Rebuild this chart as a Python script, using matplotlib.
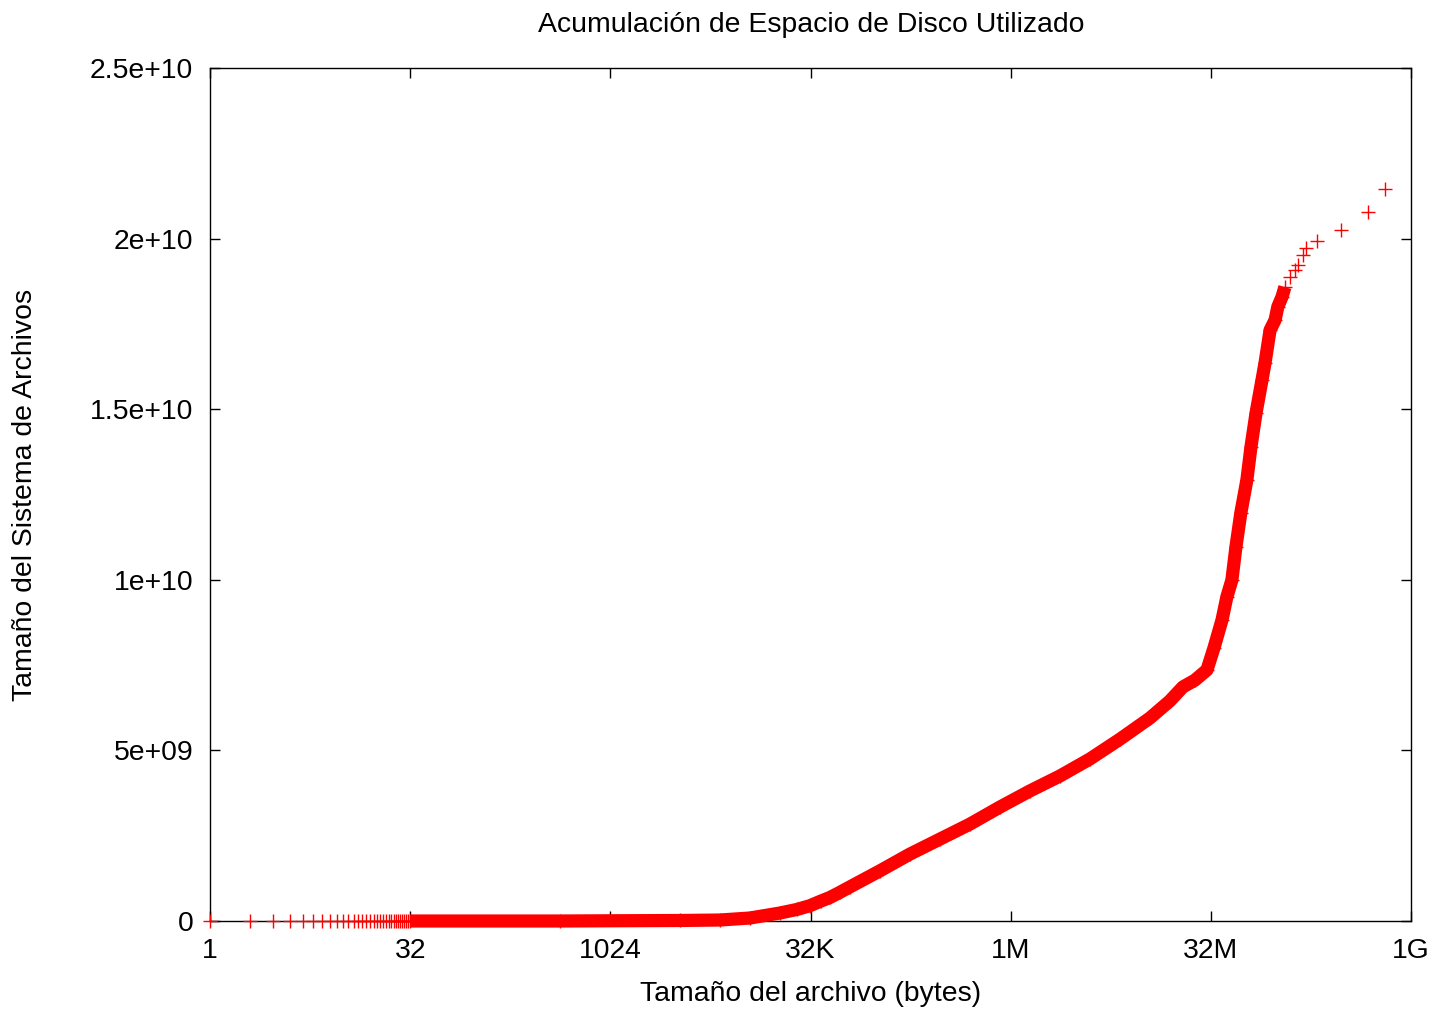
import matplotlib
matplotlib.use('Agg')
import matplotlib.pyplot as plt

plt.rcParams['font.family'] = ['Liberation Sans', 'DejaVu Sans']

# Archivos pequeños (1..31 bytes): puntos sueltos, acumulado ~0
tamanos_pequenos = [1, 2, 3, 4, 5, 6, 7, 8, 9, 10, 11, 12, 13, 14, 15, 16,
                    17, 18, 19, 20, 21, 22, 23, 24, 25, 26, 27, 28, 29, 30, 31]
acumulado_pequenos = [0] * len(tamanos_pequenos)

# Tramo denso de la curva (bytes, bytes acumulados)
tamano_curva = [32, 430, 3420, 6840, 11.5e3, 19.3e3, 26e3, 32.5e3, 39e3,
                45.9e3, 54.5e3, 64.9e3, 109e3, 183e3, 308e3, 518e3, 871e3,
                1.46e6, 2.46e6, 4.14e6, 6.96e6, 11.7e6, 16.5e6, 20.7e6,
                25.5e6, 31.4e6, 35.4e6, 40.7e6, 44.3e6, 48.3e6, 51.8e6,
                56.4e6, 62.6e6, 67.2e6, 73.4e6, 81.4e6, 85.7e6, 93.6e6,
                102e6, 107e6, 115e6, 121e6]
acumulado_curva = [0, 0, 1.5e7, 2.9e7, 8.8e7, 2.34e8, 3.4e8, 4.5e8, 5.8e8,
                   6.9e8, 8.4e8, 1.0e9, 1.47e9, 1.96e9, 2.40e9, 2.84e9,
                   3.34e9, 3.81e9, 4.25e9, 4.75e9, 5.33e9, 5.95e9, 6.45e9,
                   6.86e9, 7.06e9, 7.36e9, 8.0e9, 8.82e9, 9.5e9, 9.99e9,
                   1.096e10, 1.196e10, 1.292e10, 1.389e10, 1.489e10,
                   1.586e10, 1.635e10, 1.732e10, 1.761e10, 1.80e10,
                   1.829e10, 1.858e10]

# Archivos grandes: puntos sueltos al final
tamanos_grandes = [132e6, 144e6, 152e6, 166e6, 175e6, 211e6, 320e6, 510e6,
                   686e6]
acumulado_grandes = [1.887e10, 1.908e10, 1.923e10, 1.952e10, 1.972e10,
                     1.993e10, 2.025e10, 2.078e10, 2.145e10]

x_ticks = [2**0, 2**5, 2**10, 2**15, 2**20, 2**25, 2**30]
x_labels = ['1', '32', '1024', '32K', '1M', '32M', '1G']
y_ticks = [0, 5e9, 1e10, 1.5e10, 2e10, 2.5e10]
y_labels = ['0', '5e+09', '1e+10', '1.5e+10', '2e+10', '2.5e+10']

fs = 20.4
rojo = '#ff0000'

fig = plt.figure(figsize=(14.35, 10.09), dpi=100)
ax = fig.add_axes([210 / 1435, 1 - 921 / 1009, 1201 / 1435, 853 / 1009])

ax.plot(tamanos_pequenos, acumulado_pequenos, linestyle='none', marker='+',
        ms=9.5, mew=1.0, color=rojo, clip_on=False, zorder=3)
ax.plot(tamano_curva, acumulado_curva, color=rojo, lw=9.5,
        solid_capstyle='butt', solid_joinstyle='round', marker='+',
        ms=10, mew=1.0, clip_on=False, zorder=3)
ax.plot(tamanos_grandes, acumulado_grandes, linestyle='none', marker='+',
        ms=9.5, mew=1.0, color=rojo, clip_on=False, zorder=3)

ax.set_xscale('log', base=2)
ax.set_xlim(1, 2**30)
ax.set_ylim(0, 2.5e10)
ax.set_xticks(x_ticks)
ax.set_xticklabels(x_labels)
ax.set_yticks(y_ticks)
ax.set_yticklabels(y_labels)
ax.minorticks_off()
ax.tick_params(direction='in', length=7.5, width=1, labelsize=fs,
               top=True, right=True, colors='black')
ax.tick_params(axis='x', pad=12)
ax.tick_params(axis='y', pad=12)
for sp in ax.spines.values():
    sp.set_linewidth(1)
    sp.set_color('black')

fig.text(811 / 1435, 1 - 25 / 1009, 'Acumulación de Espacio de Disco Utilizado',
         ha='center', va='center', fontsize=fs)
fig.text(811 / 1435, 1 - 994 / 1009, 'Tamaño del archivo (bytes)',
         ha='center', va='center', fontsize=fs)
fig.text(25 / 1435, 1 - 495 / 1009, 'Tamaño del Sistema de Archivos',
         ha='center', va='center', rotation=90, fontsize=fs)

fig.savefig('out.png', dpi=100)
